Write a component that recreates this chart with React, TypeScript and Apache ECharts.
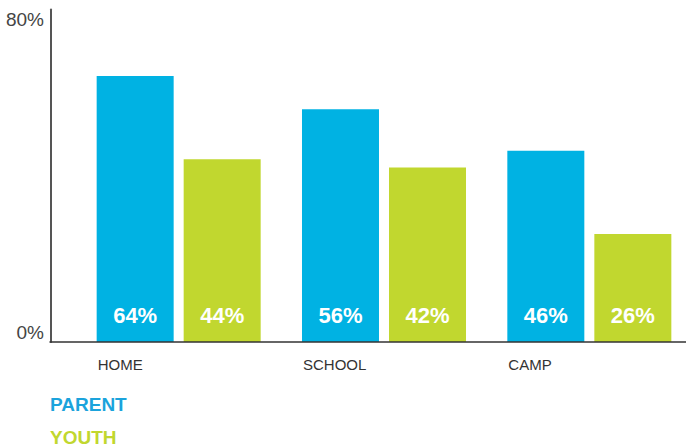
import React, { useEffect, useRef } from "react";
import * as echarts from "echarts";

const categories = ["HOME", "SCHOOL", "CAMP"];
const parentValues = [64, 56, 46];
const youthValues = [44, 42, 26];
const seriesNames = ["PARENT", "YOUTH"];
const yTicks = [0, 80];

const BLUE = "#00B2E3";
const GREEN = "#C1D72F";
const FONT = "'Liberation Sans', Arial, sans-serif";

export default function App() {
  const ref = useRef<HTMLDivElement>(null);
  useEffect(() => {
    if (!ref.current) return;
    const chart = echarts.init(ref.current, null, { renderer: "svg" });
    const barLabel = {
      show: true,
      position: "insideBottom",
      distance: 16,
      formatter: "{c}%",
      color: "#ffffff",
      fontWeight: "bold",
      fontSize: 22,
      fontFamily: FONT,
    };
    const legendBase = {
      orient: "vertical",
      left: 45,
      icon: "none",
      itemWidth: 0,
      itemHeight: 10,
      padding: 0,
      selectedMode: false,
    };
    chart.setOption({
      animation: false,
      backgroundColor: "#ffffff",
      textStyle: { fontFamily: FONT },
      grid: [
        { left: 76, width: 616, top: 9.5, bottom: 106, containLabel: false },
        { left: 50, width: 636, top: 9.5, bottom: 106, containLabel: false },
      ],
      legend: [
        {
          ...legendBase,
          top: 395,
          textStyle: { fontSize: 19, fontWeight: "bold", fontFamily: FONT, color: "#1BA3DC" },
          data: [seriesNames[0]],
        },
        {
          ...legendBase,
          top: 428,
          textStyle: { fontSize: 19, fontWeight: "bold", fontFamily: FONT, color: GREEN },
          data: [seriesNames[1]],
        },
      ],
      xAxis: [
        {
          type: "category",
          gridIndex: 0,
          data: categories,
          axisLine: { show: false },
          axisTick: { show: false },
          axisLabel: {
            margin: 15,
            color: "#333333",
            fontSize: 15,
            fontFamily: FONT,
            formatter: (v: string) => `{a|${v}}`,
            rich: { a: { width: 162, align: "left", fontSize: 15, color: "#333333", fontFamily: FONT } },
          },
        },
        {
          type: "value",
          gridIndex: 1,
          min: 0,
          max: 1,
          z: 10,
          axisLine: { show: true, lineStyle: { color: "#333333", width: 1.5 } },
          axisTick: { show: false },
          axisLabel: { show: false },
          splitLine: { show: false },
        },
      ],
      yAxis: [
        {
          type: "value",
          gridIndex: 0,
          min: yTicks[0],
          max: yTicks[1],
          interval: 80,
          offset: 25,
          axisLine: { show: true, lineStyle: { color: "#555555", width: 2 } },
          axisTick: { show: false },
          splitLine: { show: false },
          axisLabel: {
            margin: 7,
            color: "#444444",
            fontSize: 19,
            fontFamily: FONT,
            formatter: "{value}%",
            verticalAlignMaxLabel: "top",
            verticalAlignMinLabel: "bottom",
          },
        },
        {
          type: "value",
          gridIndex: 1,
          show: false,
        },
      ],
      series: [
        {
          name: seriesNames[0],
          type: "bar",
          data: parentValues,
          barWidth: 77,
          barGap: "13%",
          itemStyle: { color: BLUE },
          label: barLabel,
        },
        {
          name: seriesNames[1],
          type: "bar",
          data: youthValues,
          barWidth: 77,
          barGap: "13%",
          itemStyle: { color: GREEN },
          label: barLabel,
        },
      ],
    });
    return () => chart.dispose();
  }, []);
  return (
    <div style={{ width: 686, height: 448, position: "absolute", left: 0, top: 0, overflow: "hidden" }}>
      <div ref={ref} style={{ width: 700, height: 448 }} />
    </div>
  );
}
